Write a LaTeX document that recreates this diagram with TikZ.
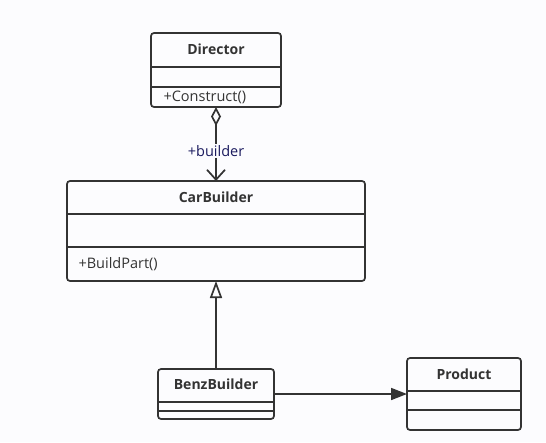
\documentclass[tikz,border=0pt]{standalone}
\usepackage{fontspec}
\setmainfont{Open Sans}
\usetikzlibrary{arrows.meta}
\definecolor{ln}{HTML}{333333}
\definecolor{bg}{HTML}{FCFCFE}
\definecolor{lbl}{HTML}{1A1A5E}
\begin{document}
\begin{tikzpicture}[x=1pt,y=-1pt,
  cls/.style={draw=ln,line width=1.7pt,rounded corners=3pt},
  sep/.style={draw=ln,line width=1.7pt},
  ttl/.style={font=\fontsize{14}{16}\selectfont\bfseries,text=ln},
  mth/.style={font=\fontsize{14.5}{16}\selectfont,text=ln,anchor=west},
  conn/.style={draw=ln,line width=1.7pt}]
\fill[bg] (0,0) rectangle (546,442);
\useasboundingbox (0,0) rectangle (546,442);
% Director
\draw[cls] (151,33) rectangle (281,107);
\draw[sep] (151,67) -- (281,67);
\draw[sep] (151,87) -- (281,87);
\node[ttl] (dir) at (216,49) {Director};
\node[mth] (dirm) at (160,97) {+Construct()};
\coordinate (dirB) at (216,107);
% CarBuilder
\draw[cls] (67,181) rectangle (365,281);
\draw[sep] (67,214) -- (365,214);
\draw[sep] (67,247) -- (365,247);
\node[ttl] (cb) at (216,197) {CarBuilder};
\node[mth] (cbm) at (75,264) {+BuildPart()};
\coordinate (cbT) at (216,181);
\coordinate (cbB) at (216,281);
% BenzBuilder
\draw[cls] (158,369) rectangle (274,419);
\draw[sep] (158,402) -- (274,402);
\draw[sep] (158,411) -- (274,411);
\node[ttl] (bb) at (216,384) {BenzBuilder};
\coordinate (bbT) at (216,369);
\coordinate (bbR) at (274,394);
% Product
\draw[cls] (407,358) rectangle (521,430);
\draw[sep] (407,391) -- (521,391);
\draw[sep] (407,410) -- (521,410);
\node[ttl] (pr) at (464,374) {Product};
\coordinate (prL) at (407,394);
% connectors
\node[font=\fontsize{14.5}{16}\selectfont,text=lbl,inner sep=1pt] (lab) at (216,151) {+builder};
\draw[conn,{Diamond[open,length=19pt,width=10pt,line width=1.7pt]}-] (dirB) -- (lab.north);
\draw[conn,-{Straight Barb[length=10pt,width=18pt,line width=1.7pt]}] (lab.south) -- (cbT);
\draw[conn,-{Triangle[open,length=17pt,width=12pt,line width=1.7pt]}] (bbT) -- (cbB);
\draw[conn,-{Triangle[length=16pt,width=12pt]}] (bbR) -- (prL);
\end{tikzpicture}
\end{document}
